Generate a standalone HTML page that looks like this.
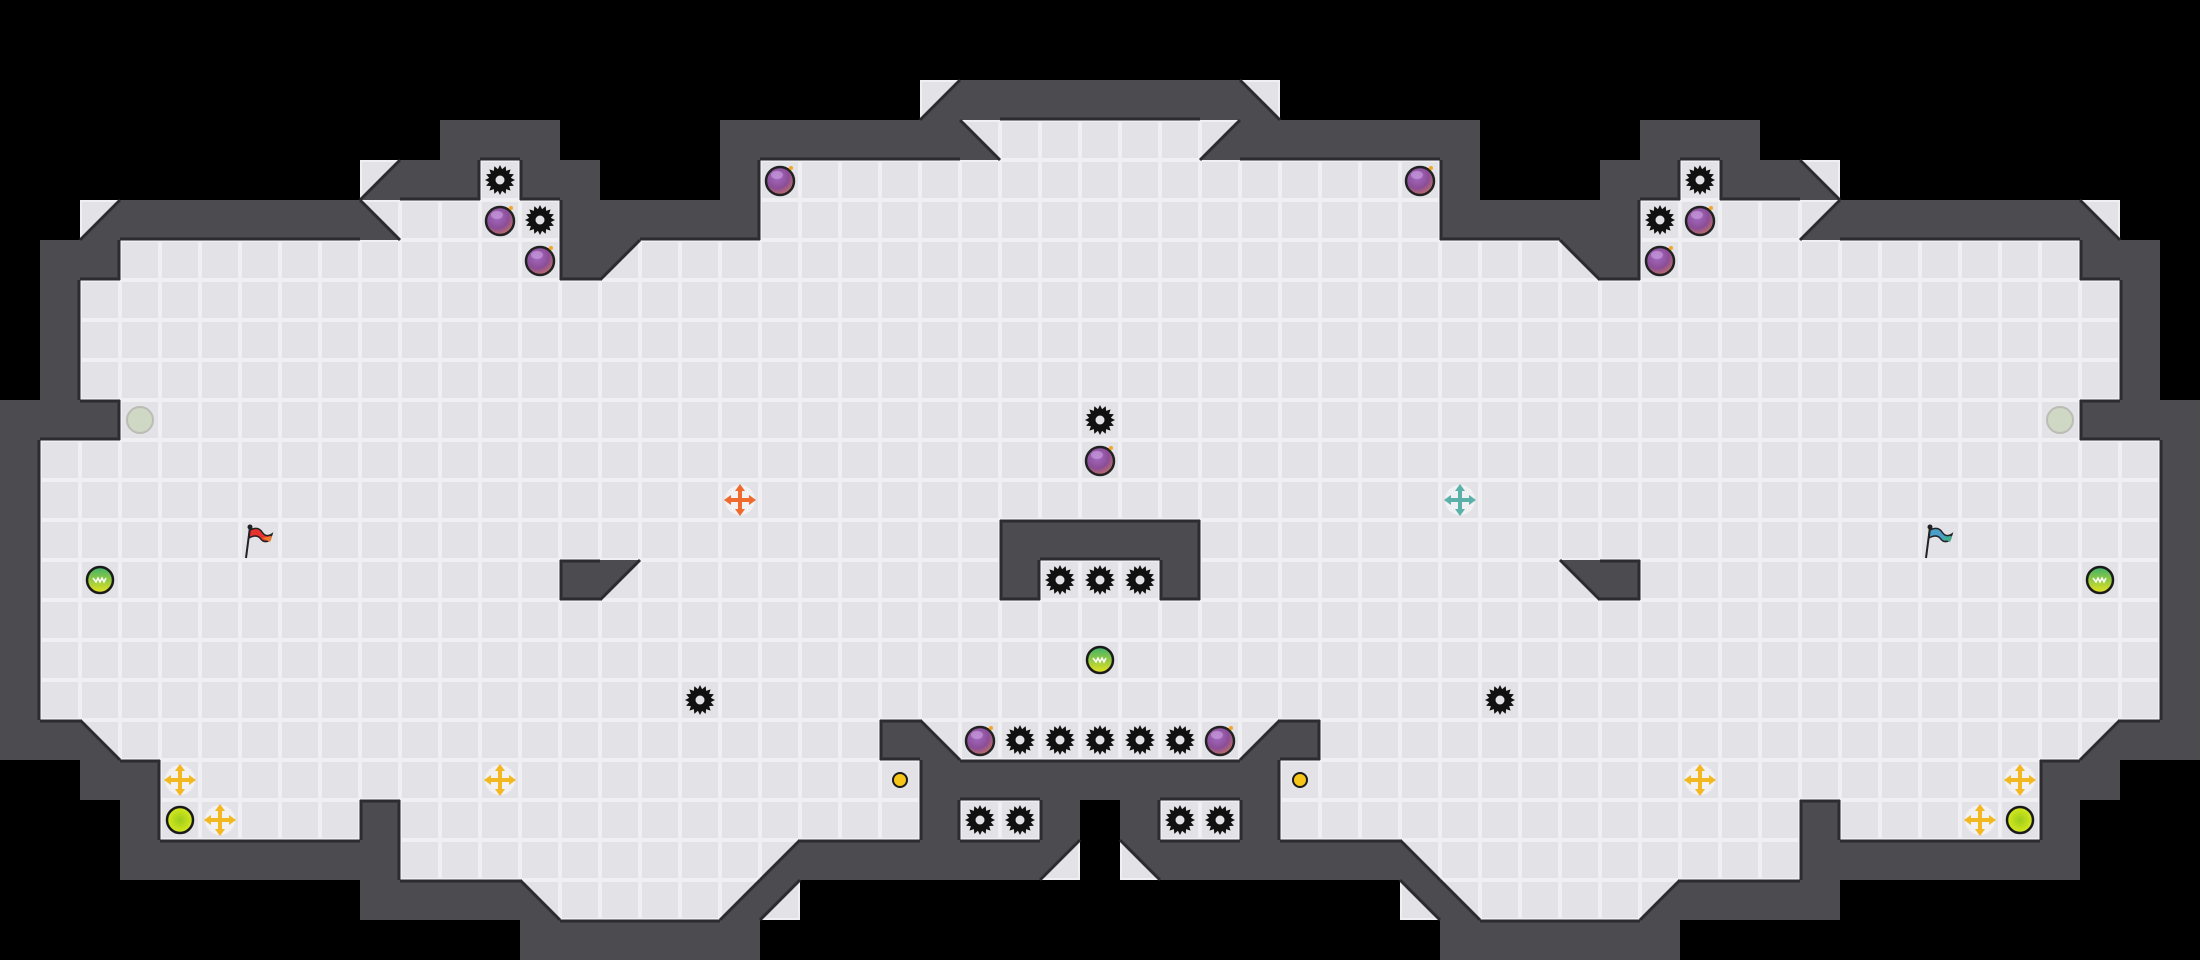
<!DOCTYPE html>
<html><head><meta charset="utf-8">
<style>
html,body{margin:0;padding:0;background:#000;width:2200px;height:960px;overflow:hidden}
svg{display:block}
</style></head>
<body>
<svg id="s" xmlns="http://www.w3.org/2000/svg" width="2200" height="960" viewBox="0 0 2200 960">
<defs>
<radialGradient id="bomb" cx="0.4" cy="0.35" r="0.75">
<stop offset="0" stop-color="#a76cc4"/><stop offset="0.55" stop-color="#8a4d96"/><stop offset="1" stop-color="#d57a58"/>
</radialGradient>
<linearGradient id="port" x1="0" y1="0" x2="0" y2="1">
<stop offset="0" stop-color="#3fb26a"/><stop offset="1" stop-color="#e8e21e"/>
</linearGradient>
<radialGradient id="yb" cx="0.5" cy="0.5" r="0.6">
<stop offset="0" stop-color="#9ccc1a"/><stop offset="1" stop-color="#e4f020"/>
</radialGradient>
</defs>
<rect width="2200" height="960" fill="#000"/>
<g id="g"></g>
</svg>
<script>
function row(spec){var s='';for(var i=0;i<spec.length;i++){var p=spec[i];for(var k=0;k<p[1];k++)s+=p[0];}return s;}
var left=[
row([[' ',28]]),
row([[' ',28]]),
row([[' ',23],['a',1],['#',4]]),
row([[' ',11],['#',3],[' ',4],['#',6],['b',1],['.',3]]),
row([[' ',9],['a',1],['#',2],['.',1],['#',2],[' ',3],['#',1],['.',9]]),
row([[' ',2],['a',1],['#',6],['b',1],['.',4],['#',5],['.',9]]),
row([[' ',1],['#',2],['.',11],['#',1],['c',1],['.',12]]),
row([[' ',1],['#',1],['.',26]]),
row([[' ',1],['#',1],['.',26]]),
row([[' ',1],['#',1],['.',26]]),
row([['#',3],['.',25]]),
row([['#',1],['.',27]]),
row([['#',1],['.',27]]),
row([['#',1],['.',24],['#',3]]),
row([['#',1],['.',13],['#',1],['c',1],['.',9],['#',1],['.',2]]),
row([['#',1],['.',27]]),
row([['#',1],['.',27]]),
row([['#',1],['.',27]]),
row([['#',2],['b',1],['.',19],['#',1],['b',1],['.',4]]),
row([[' ',2],['#',2],['.',19],['#',5]]),
row([[' ',3],['#',1],['.',5],['#',1],['.',13],['#',1],['.',2],['#',1],[' ',1]]),
row([[' ',3],['#',7],['.',9],['a',1],['#',6],['c',1],[' ',1]]),
row([[' ',9],['#',4],['b',1],['.',4],['a',1],['c',1],[' ',8]]),
row([[' ',13],['#',6],[' ',9]])
];
var mir={'a':'b','b':'a','c':'d','d':'c'};
var map=left.map(function(r){var full=r.split('');for(var c=28;c<55;c++){var ch=r[54-c];full.push(mir[ch]||ch);}return full;});
var out=[],lines=[];var T=40;
var WALL='#4b4b50',FL='#e3e3e7',FS='#f0f0f3',ED='#2c2c30';
function at(x,y){if(y<0||y>23||x<0||x>54)return ' ';return map[y][x];}
for(var y=0;y<24;y++)for(var x=0;x<55;x++){
 var ch=map[y][x],X=x*T,Y=y*T;
 if(ch==' ')continue;
 if(ch=='#'){out.push('<rect x="'+X+'" y="'+Y+'" width="40" height="40" fill="'+WALL+'"/>');
  if(at(x,y-1)=='.')lines.push([X,Y+1,X+40,Y+1]);
  if(at(x,y+1)=='.')lines.push([X,Y+39,X+40,Y+39]);
  if(at(x-1,y)=='.')lines.push([X+1,Y,X+1,Y+40]);
  if(at(x+1,y)=='.')lines.push([X+39,Y,X+39,Y+40]);
  continue;}
 out.push('<rect x="'+(X+1)+'" y="'+(Y+1)+'" width="38" height="38" fill="'+FL+'" stroke="'+FS+'" stroke-width="2"/>');
 var p=null;
 if(ch=='a'){p=[[X+40,Y],[X+40,Y+40],[X,Y+40]];lines.push([X+40,Y,X,Y+40]);}
 if(ch=='b'){p=[[X,Y],[X,Y+40],[X+40,Y+40]];lines.push([X,Y,X+40,Y+40]);}
 if(ch=='c'){p=[[X,Y],[X+40,Y],[X,Y+40]];lines.push([X+40,Y,X,Y+40]);}
 if(ch=='d'){p=[[X,Y],[X+40,Y],[X+40,Y+40]];lines.push([X,Y,X+40,Y+40]);}
 if(p)out.push('<polygon points="'+p.map(function(q){return q.join(',')}).join(' ')+'" fill="'+WALL+'"/>');
}
lines.forEach(function(l){out.push('<line x1="'+l[0]+'" y1="'+l[1]+'" x2="'+l[2]+'" y2="'+l[3]+'" stroke="'+ED+'" stroke-width="3"/>');});
function cx(c){return c*T+20}
function spike(c,r){var X=cx(c),Y=cx(r),pts=[];for(var i=0;i<32;i++){var a=i*Math.PI/16,rr=(i%2?11:15);pts.push((X+rr*Math.cos(a)).toFixed(1)+','+(Y+rr*Math.sin(a)).toFixed(1));}
 out.push('<polygon points="'+pts.join(' ')+'" fill="#111"/><circle cx="'+X+'" cy="'+Y+'" r="4.5" fill="#e3e3e7"/>');}
function bomb(c,r){var X=cx(c),Y=cx(r);out.push('<circle cx="'+X+'" cy="'+(Y+1)+'" r="14" fill="url(#bomb)" stroke="#222" stroke-width="2.5"/><ellipse cx="'+(X-3)+'" cy="'+(Y-5)+'" rx="6" ry="4" fill="#d8b0ea" opacity="0.5"/><circle cx="'+(X+11)+'" cy="'+(Y-12)+'" r="2" fill="#f5a623"/>');}
function portal(c,r){var X=cx(c),Y=cx(r);out.push('<circle cx="'+X+'" cy="'+Y+'" r="13" fill="url(#port)" stroke="#1a1a1a" stroke-width="2.5"/><path d="M'+(X-7)+' '+(Y-2)+' l3 4 l2-4 l2 4 l2-4 l2 4 l2-4" stroke="#fff" stroke-width="1.5" fill="none"/>');}
function gray(c,r){var X=cx(c),Y=cx(r);out.push('<circle cx="'+X+'" cy="'+Y+'" r="13" fill="#cfd8c4" stroke="#b9bdb5" stroke-width="2"/>');}
function yball(c,r){var X=cx(c),Y=cx(r);out.push('<circle cx="'+X+'" cy="'+Y+'" r="13" fill="url(#yb)" stroke="#1a1a1a" stroke-width="2.5"/>');}
function boost(c,r,col){var X=cx(c),Y=cx(r);out.push('<circle cx="'+X+'" cy="'+Y+'" r="15" fill="#fff" opacity="0.5"/><g stroke="'+col+'" stroke-width="4" fill="'+col+'"><line x1="'+(X-11)+'" y1="'+Y+'" x2="'+(X+11)+'" y2="'+Y+'"/><line x1="'+X+'" y1="'+(Y-11)+'" x2="'+X+'" y2="'+(Y+11)+'"/></g>'+
 '<g fill="'+col+'"><polygon points="'+(X-16)+','+Y+' '+(X-9)+','+(Y-5)+' '+(X-9)+','+(Y+5)+'"/><polygon points="'+(X+16)+','+Y+' '+(X+9)+','+(Y-5)+' '+(X+9)+','+(Y+5)+'"/><polygon points="'+X+','+(Y-16)+' '+(X-5)+','+(Y-9)+' '+(X+5)+','+(Y-9)+'"/><polygon points="'+X+','+(Y+16)+' '+(X-5)+','+(Y+9)+' '+(X+5)+','+(Y+9)+'"/></g>');}
function coin(c,r){var X=cx(c),Y=cx(r);out.push('<circle cx="'+X+'" cy="'+Y+'" r="7" fill="#f5c518" stroke="#1a1a1a" stroke-width="2"/>');}
function flag(c,r,col,dk){var X=cx(c)-12,Y=cx(r);out.push('<line x1="'+(X+2)+'" y1="'+(Y-13)+'" x2="'+(X-2)+'" y2="'+(Y+18)+'" stroke="#222" stroke-width="2"/><circle cx="'+(X+2)+'" cy="'+(Y-13)+'" r="2.5" fill="#222"/><path d="M'+(X+2)+' '+(Y-10)+' q8 -4 12 2 q4 6 10 2 l-2 6 q-6 4 -10 -2 q-4 -4 -11 0z" fill="'+col+'" stroke="#222" stroke-width="1.5"/><path d="M'+(X+14)+' '+(Y-2)+' l10 -2 l-2 6z" fill="'+dk+'"/>');}
[[12,4],[13,5],[27,10],[26,14],[27,14],[28,14],[17,17],[37,17],[25,18],[26,18],[27,18],[28,18],[29,18],[24,20],[25,20],[29,20],[30,20],[42,4],[41,5]].forEach(function(p){spike(p[0],p[1])});
[[12,5],[13,6],[19,4],[27,11],[24,18],[30,18],[35,4],[42,5],[41,6]].forEach(function(p){bomb(p[0],p[1])});
[[2,14],[27,16],[52,14]].forEach(function(p){portal(p[0],p[1])});
gray(3,10);gray(51,10);
yball(4,20);yball(50,20);
[[4,19],[12,19],[5,20],[42,19],[50,19],[49,20]].forEach(function(p){boost(p[0],p[1],'#f2b820')});
boost(18,12,'#ef6a2e');boost(36,12,'#5bb0a8');
coin(22,19);coin(32,19);
flag(6,13,'#e8322e','#f07a2a');flag(48,13,'#4a9fc8','#3fae8c');
document.getElementById('g').innerHTML=out.join('');
</script>
</body></html>
